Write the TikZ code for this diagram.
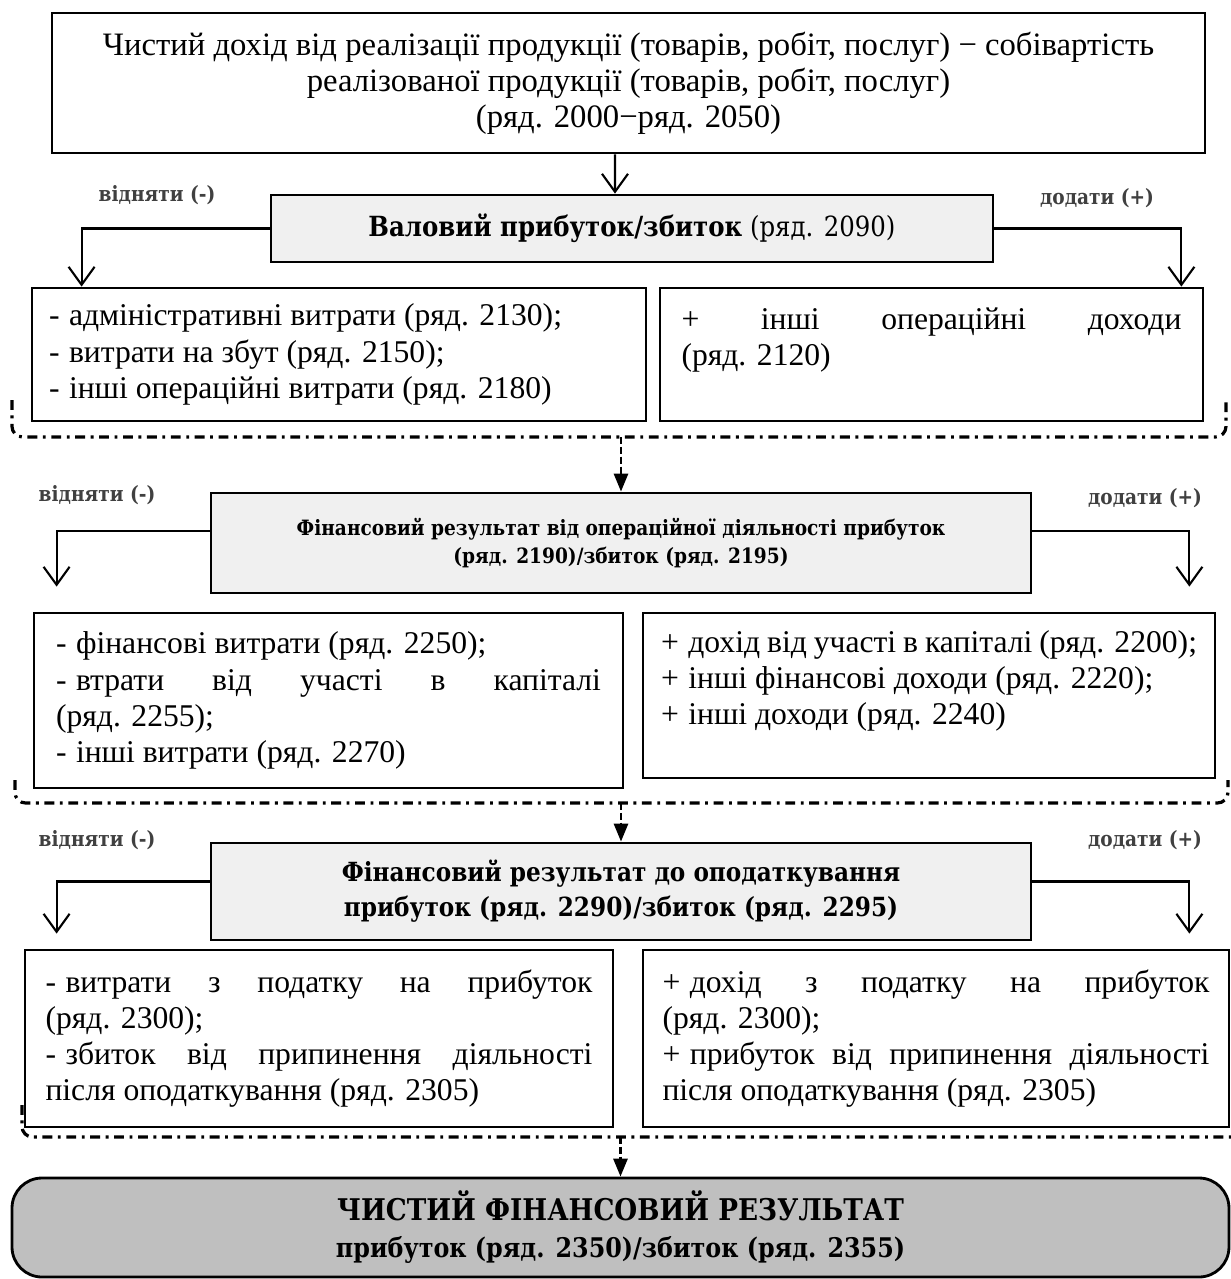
\documentclass[tikz,border=0pt]{standalone}
\usepackage{fontspec}
\setmainfont{Liberation Serif}
\newfontfamily\headfont[FakeStretch=0.88]{DejaVu Serif}
\usetikzlibrary{arrows.meta, calc, positioning}

\newcommand{\itm}[1]{#1\hspace{0.3em}\ignorespaces}

\begin{document}
\begin{tikzpicture}[
    x=0.1mm, y=-0.1mm,
    plainbox/.style={draw, thick, inner sep=0pt},
    headbox/.style={draw, thick, fill=gray!12, inner sep=0pt, align=center},
    listbox/.style={draw, thick, inner sep=0pt, align=justify, font=\fontsize{9}{10.3}\selectfont},
    sidearr/.style={-{Straight Barb[length=1.8mm, width=2.6mm]}, semithick},
    midarr/.style={-{Triangle[length=1.8mm, width=1.4mm]}, thick, dash pattern=on 2pt off 0.8pt},
    bracket/.style={line width=0.9pt, dash pattern=on 2.8pt off 1.6pt on 0.8pt off 1.6pt, rounded corners=3pt},
    oplabel/.style={font=\headfont\bfseries\fontsize{6}{7}\selectfont, text=black!75},
]
\useasboundingbox (0,0) rectangle (1231,1279);

% gross profit
\node[plainbox, minimum width=115.3mm, minimum height=14mm, align=center, font=\fontsize{9.3}{10.3}\selectfont] (top) at (628.5,83) {Чистий дохід від реалізації продукції (товарів, робіт, послуг) − собівартість\\реалізованої продукції (товарів, робіт, послуг)\\(ряд. 2000−ряд. 2050)};
\node[headbox, minimum width=72.2mm, minimum height=6.7mm, font=\headfont\fontsize{7.9}{9}\selectfont] (val) at (632,228.5) {\textbf{Валовий прибуток/збиток} (ряд. 2090)};
\node[oplabel] (minus1) at (157,195) {відняти (-)};
\node[oplabel] (plus1) at (1097,198) {додати (+)};

\node[listbox, minimum width=61.4mm, minimum height=13.3mm, text width=58mm] (r1l) at (339,354.5) {\itm- адміністративні витрати (ряд. 2130);\\\itm- витрати на збут (ряд. 2150);\\\itm- інші операційні витрати (ряд. 2180)};
\node[listbox, minimum width=54.3mm, minimum height=13.3mm, text width=50mm] (r1r) at (931.5,354.5) {+ інші операційні доходи\linebreak (ряд. 2120)\\\mbox{}};

\draw[sidearr] ([xshift=-1.35mm]top.south) -- ([xshift=-1.7mm]val.north);
\draw[sidearr] (val.west) -| ([xshift=5.1mm]r1l.north west);
\draw[sidearr] (val.east) -| ([xshift=-2.3mm]r1r.north east);

\draw[bracket] (12,400) -- (12,437) -- (1226,437) -- (1226,400);
\coordinate (j1) at (621,437);

% operating result
\node[headbox, minimum width=82mm, minimum height=10mm, font=\headfont\bfseries\fontsize{6}{7.9}\selectfont] (hd2) at (621,543) {Фінансовий результат від операційної діяльності прибуток\\(ряд. 2190)/збиток (ряд. 2195)};
\node[oplabel] (minus2) at (97,495) {відняти (-)};
\node[oplabel] (plus2) at (1145,498) {додати (+)};
\draw[midarr] (j1) -- (hd2.north);

\node[listbox, minimum width=58.9mm, minimum height=17.5mm, text width=54.5mm] (r2l) at (328.5,700.5) {\itm- фінансові витрати (ряд. 2250);\\\itm- втрати від участі в капіталі\linebreak (ряд. 2255);\\\itm- інші витрати (ряд. 2270)};
\node[listbox, minimum width=57.2mm, minimum height=16.5mm, text width=53.6mm] (r2r) at (929,695.5) {\itm+ дохід від участі в капіталі (ряд. 2200);\\\itm+ інші фінансові доходи (ряд. 2220);\\\itm+ інші доходи (ряд. 2240)\\\mbox{}};

\draw[sidearr] ($(hd2.west)+(0,-12)$) -| ([xshift=2.4mm,yshift=2.5mm]r2l.north west);
\draw[sidearr] ($(hd2.east)+(0,-12)$) -| ([xshift=-2.7mm,yshift=2.5mm]r2r.north east);

\draw[bracket] (15,780) -- (15,803) -- (1228,803) -- (1228,780);
\coordinate (j2) at (621,803);

% result before tax
\node[headbox, minimum width=82mm, minimum height=9.7mm, font=\headfont\bfseries\fontsize{7.5}{10}\selectfont] (hd3) at (621,891.5) {Фінансовий результат до оподаткування\\прибуток (ряд. 2290)/збиток (ряд. 2295)};
\node[oplabel] (minus3) at (97,840) {відняти (-)};
\node[oplabel] (plus3) at (1145,840) {додати (+)};
\draw[midarr] (j2) -- (hd3.north);

\node[listbox, minimum width=58.8mm, minimum height=17.7mm, text width=54.7mm] (r3l) at (319,1038.5) {\itm- витрати з податку на прибуток\linebreak (ряд. 2300);\\\itm- збиток від припинення діяльності\linebreak після оподаткування (ряд. 2305)};
\node[listbox, minimum width=58.6mm, minimum height=17.7mm, text width=54.7mm] (r3r) at (936,1038.5) {\itm+ дохід з податку на прибуток\linebreak (ряд. 2300);\\\itm+ прибуток від припинення діяльності\linebreak після оподаткування (ряд. 2305)};

\draw[sidearr] ($(hd3.west)+(0,-10)$) -| ([xshift=3.3mm,yshift=1.5mm]r3l.north west);
\draw[sidearr] ($(hd3.east)+(0,-10)$) -| ([xshift=-4.1mm,yshift=1.5mm]r3r.north east);

\draw[bracket] (22,1105) -- (22,1137) -- (1231,1137);
\coordinate (j3) at (620.5,1137);

% net result
\node[draw, thick, rounded corners=3mm, fill=black!25, minimum width=121.7mm, minimum height=9.9mm, inner sep=0pt, align=center, font=\headfont\bfseries\fontsize{8}{10.5}\selectfont] (fin) at (620.5,1227.5) {{\fontsize{8.5}{10.5}\selectfont ЧИСТИЙ ФІНАНСОВИЙ РЕЗУЛЬТАТ}\\{\fontsize{7.7}{9}\selectfont прибуток (ряд. 2350)/збиток (ряд. 2355)}};
\draw[midarr] (j3) -- (fin.north);

\end{tikzpicture}
\end{document}
